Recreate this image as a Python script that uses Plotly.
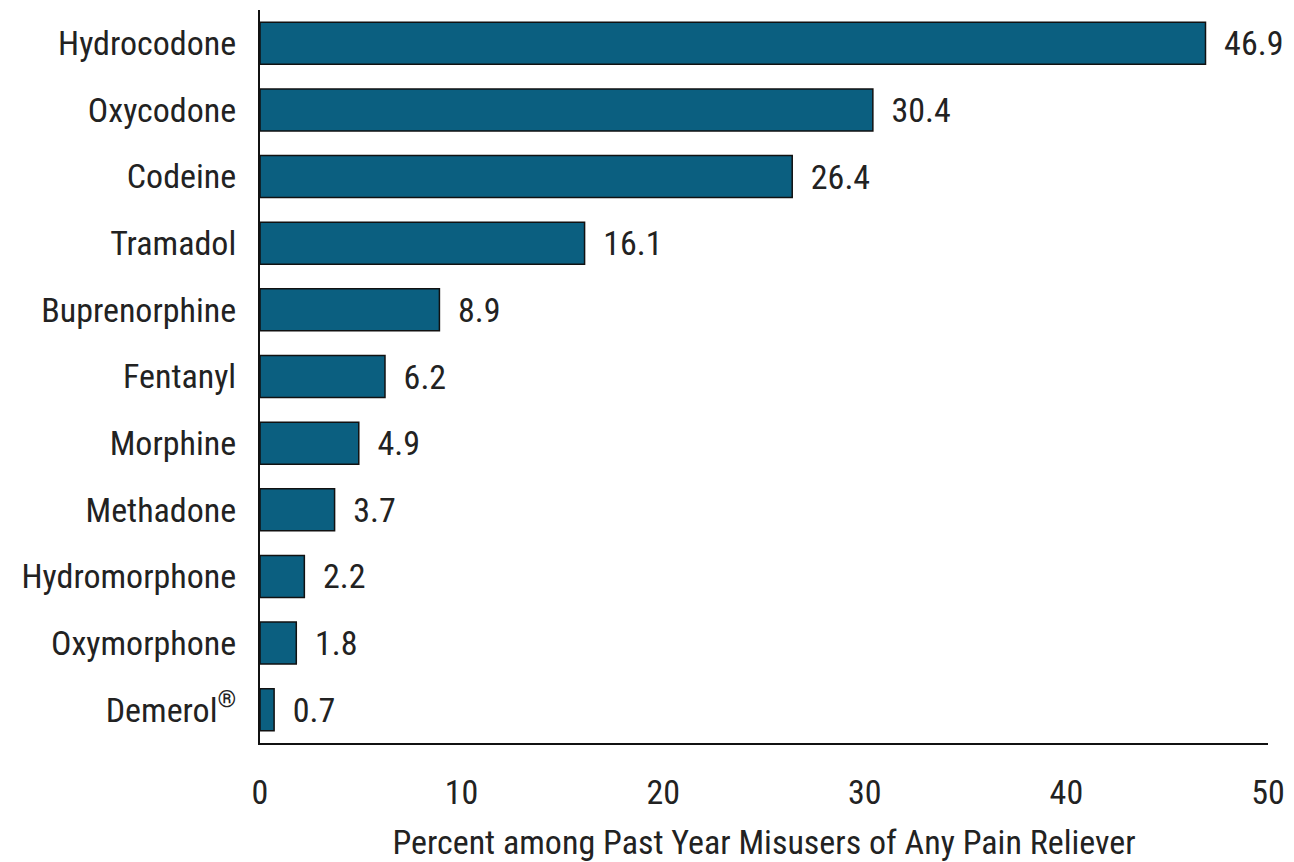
import plotly.graph_objects as go

drugs = ["Hydrocodone", "Oxycodone", "Codeine", "Tramadol", "Buprenorphine", "Fentanyl",
         "Morphine", "Methadone", "Hydromorphone", "Oxymorphone", "Demerol<sup>®</sup>"]
percent = [46.9, 30.4, 26.4, 16.1, 8.9, 6.2, 4.9, 3.7, 2.2, 1.8, 0.7]
x_ticks = [0, 10, 20, 30, 40, 50]

FONT = "Roboto Condensed, Liberation Sans Narrow, Arial Narrow, Liberation Sans, sans-serif"
FS = 34

fig = go.Figure(go.Bar(
    x=percent, y=drugs, orientation="h",
    marker=dict(color="#0b5f80", line=dict(color="#111111", width=1.5)),
    text=["\u00a0\u00a0" + f"{v:.1f}" for v in percent], textposition="outside",
    textfont=dict(size=FS, color="#222222", family=FONT),
    cliponaxis=False, width=0.63,
))

# the page body adds an 8px margin, so the figure is sized and offset to compensate
fig.update_layout(
    width=1286, height=854,
    margin=dict(l=252, r=26, t=2, b=119, autoexpand=False),
    paper_bgcolor="white", plot_bgcolor="white",
    font=dict(family=FONT, size=FS, color="#222222"),
    showlegend=False,
)
fig.update_xaxes(
    range=[0, 50], tickvals=x_ticks, showgrid=False, zeroline=False,
    showline=True, linecolor="#111111", linewidth=2, ticks="",
    ticklabelstandoff=18, automargin=False,
    title=dict(text="Percent among Past Year Misusers of Any Pain Reliever",
               font=dict(size=FS), standoff=20),
)
fig.update_yaxes(
    categoryorder="array", categoryarray=drugs, autorange=False, range=[10.5, -0.5],
    showgrid=False, zeroline=False, showline=True, linecolor="#111111", linewidth=2,
    ticks="", ticklabelstandoff=15, automargin=False,
)

fig.write_html("out.html")
